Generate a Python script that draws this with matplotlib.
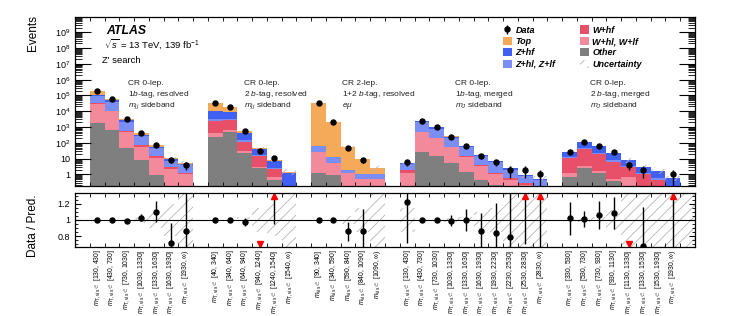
import numpy as np
import matplotlib
matplotlib.use('Agg')
import matplotlib.pyplot as plt
from matplotlib.patches import Patch
from matplotlib.ticker import FixedLocator, LogLocator, FuncFormatter, NullFormatter, MultipleLocator

plt.rcParams['font.family'] = 'Liberation Sans'
plt.rcParams['mathtext.fontset'] = 'custom'
plt.rcParams['mathtext.rm'] = 'Liberation Sans'
plt.rcParams['mathtext.it'] = 'Liberation Sans:italic'
plt.rcParams['mathtext.bf'] = 'Liberation Sans:bold'
plt.rcParams['hatch.linewidth'] = 0.6

# regions: lower bin edges of the discriminant, last bin open
r1_edges = [130, 430, 730, 1030, 1330, 1630, 1930]
r2_edges = [40, 340, 640, 940, 1240, 1540]
r3_edges = [90, 340, 590, 840, 1090]
r4_edges = [130, 430, 730, 1030, 1330, 1630, 1930, 2230, 2530, 2830]
r5_edges = [330, 530, 730, 930, 1130, 1330, 1530, 1930]
region_edges = [r1_edges, r2_edges, r3_edges, r4_edges, r5_edges]
region_var = [r'm_{\mathrm{T,vis}}', r'm_{\mathrm{T,vis}}', r'm_{\mathrm{vis}}',
              r'm_{\mathrm{T,vis}}', r'm_{\mathrm{T,vis}}']
region_text = [
    ['CR 0-lep.', '1$b$-tag, resolved', '$m_{jj}$ sideband'],
    ['CR 0-lep.', '2 $b$-tag, resolved', '$m_{jj}$ sideband'],
    ['CR 2-lep.', '1+2 $b$-tag, resolved', r'$e\mu$'],
    ['CR 0-lep.', '1$b$-tag, merged', '$m_{J}$ sideband'],
    ['CR 0-lep.', '2 $b$-tag, merged', '$m_{J}$ sideband'],
]

# stacked backgrounds, bins of the 5 regions in a row (7, 6, 5, 10, 8)
other = [1700, 630, 45, 8, 0.9, 0.15, 0.1,
         240, 460, 23, 2.4, 0.44, 0.02,
         1.15, 0.9, 0.05, 0.02, 0.01,
         0.05, 27, 14, 5.5, 1.5, 0.44, 0.2, 0.05, 0.02, 0.01,
         0.65, 2.4, 1.3, 0.35, 0.05, 0.02, 0.01, 0.005]
w_lf = [28000, 9000, 465, 50, 10, 1.95, 0.9,
        150, 170, 7, 0.6, 0.2, 0.02,
        26, 4.5, 1.2, 0.5, 0.5,
        1.2, 430, 180, 45, 11, 2.8, 0.9, 0.4, 0.2, 0.08,
        0.6, 1.0, 0.3, 0.13, 0.65, 0.1, 0.05, 0.02]
w_hf = [1500, 400, 40, 13, 3, 0.7, 0.26,
        2110, 2070, 85, 11, 1.56, 0.05,
        0.3, 0.2, 0.05, 0.02, 0.02,
        0.6, 43, 16, 5.5, 1.5, 0.66, 0.16, 0.11, 0.06, 0.02,
        9.7, 34.6, 17, 5.8, 2.3, 0.93, 0.37, 0.1]
z_lf = [60000, 31000, 1650, 180, 32, 4.6, 2.4,
        800, 700, 35, 3, 0.5, 0.07,
        35, 6.6, 0.64, 0.5, 0.5,
        2.5, 1550, 580, 145, 38, 10.3, 4.7, 1.45, 0.5, 0.32,
        2, 7, 4.4, 1.7, 0.5, 0.2, 0.12, 0.05]
z_hf = [19000, 9000, 500, 59, 10, 1.5, 0.84,
        6700, 5700, 240, 23, 4.3, 1.1,
        1.0, 0.3, 0.05, 0.05, 0.05,
        0.6, 400, 150, 39, 10, 2.8, 1.24, 0.4, 0.12, 0.07,
        14, 70, 39, 15, 4.5, 1.55, 1.05, 0.38]
top = [70000, 12000, 600, 120, 12, 1.8, 0.5,
       21000, 8400, 160, 8, 1, 0.2,
       33900, 2088, 54, 7.9, 1.4,
       0.05, 100, 40, 10, 3, 0.8, 0.3, 0.1, 0.04, 0.02,
       0.3, 1, 0.5, 0.3, 0.15, 0.1, 0.05, 0.03]

nan = np.nan
data = [180000, 62000, 3270, 443, 75, 8, 4,
        31000, 17500, 540, 30, 11, nan,
        34000, 2100, 48, 8, nan,
        6, 2550, 980, 248, 65, 15, 6, 2, 2, 1,
        27, 117, 66, 25, 4, 2, nan, 1]

ratio = [1.0, 1.0, 0.99, 1.03, 1.10, 0.71, 0.86,
         1.0, 1.0, 0.98, 0.62, 1.4, nan,
         1.0, 1.0, 0.86, 0.86, nan,
         1.22, 1.0, 1.0, 0.99, 1.0, 0.87, 0.84, 0.79, 2.3, 2.0,
         1.02, 1.01, 1.06, 1.09, 0.5, 0.68, nan, 1.8]
ratio_err = [0.005, 0.006, 0.02, 0.04, 0.13, 0.25, 0.5,
             0.008, 0.01, 0.05, 0.12, 0.45, nan,
             0.005, 0.02, 0.12, 0.28, nan,
             0.51, 0.02, 0.03, 0.07, 0.13, 0.22, 0.37, 0.6, 1.6, 2.0,
             0.2, 0.1, 0.17, 0.2, 0.15, 0.48, nan, 1.6]
# relative background uncertainty
unc = [0.005, 0.005, 0.01, 0.04, 0.1, 0.2, 0.35,
       0.005, 0.005, 0.04, 0.15, 0.2, 0.4,
       0.005, 0.01, 0.05, 0.15, 0.4,
       0.15, 0.01, 0.01, 0.03, 0.04, 0.1, 0.15, 0.4, 0.4, 0.4,
       0.01, 0.02, 0.04, 0.12, 0.35, 0.4, 0.4, 0.4]

c_other = '#7f7f7f'
c_wlf = '#f28a9c'
c_whf = '#e8506a'
c_zlf = '#7b8ef5'
c_zhf = '#3f60f0'
c_top = '#f5aa5a'
c_hatch = '#b5b5b5'

# slot layout: one empty slot before, between and after the regions
nbins = [len(e) for e in region_edges]
starts = []
pos = 1
for n in nbins:
    starts.append(pos)
    pos += n + 1
n_slots = pos
x = np.concatenate([s + np.arange(n) for s, n in zip(starts, nbins)]).astype(float)

labels = []
for edges, var in zip(region_edges, region_var):
    for i, lo in enumerate(edges):
        if i + 1 < len(edges):
            rng = '[%d, %d]' % (lo, edges[i + 1])
        else:
            rng = '[%d, $\\infty$)' % lo
        labels.append(r'$%s \in$ %s' % (var, rng))

fig = plt.figure(figsize=(7.52, 3.16), dpi=100)
ax = fig.add_axes([75 / 752, 1 - 185.7 / 316, 620 / 752, 169 / 316])
axr = fig.add_axes([75 / 752, 1 - 246.7 / 316, 620 / 752, 53.4 / 316])

stack = [(other, c_other), (w_lf, c_wlf), (w_hf, c_whf),
         (z_lf, c_zlf), (z_hf, c_zhf), (top, c_top)]
bottom = np.full(len(x), 1e-3)
for vals, col in stack:
    vals = np.array(vals)
    ax.bar(x, vals, width=1, bottom=bottom, align='edge', color=col, linewidth=0)
    bottom = bottom + vals
total = bottom
u = np.array(unc)
ax.bar(x, 2 * u * total, bottom=total * (1 - u), width=1, align='edge', fill=False,
       hatch='///', edgecolor=c_hatch, linewidth=0)

data = np.array(data)
derr = np.sqrt(data)
dlo = np.minimum(derr, data - 1e-3)
eb = ax.errorbar(x + 0.5, data, yerr=[dlo, derr], fmt='o', color='k', ms=3.6,
                 elinewidth=1.0, capsize=0, label='Data')

ax.set_yscale('log')
ax.set_ylim(0.19, 9.8e9)
ax.yaxis.set_major_locator(FixedLocator(10.0 ** np.arange(0, 10)))
ax.yaxis.set_minor_locator(LogLocator(base=10, subs=np.arange(2, 10), numticks=100))
def logfmt(v, p):
    n = int(round(np.log10(v)))
    if n == 0:
        return '1'
    if n == 1:
        return '10'
    return r'$10^{%d}$' % n
ax.yaxis.set_major_formatter(FuncFormatter(logfmt))
ax.yaxis.set_minor_formatter(NullFormatter())
ax.tick_params(axis='y', which='major', direction='in', left=True, right=True,
               length=11.5, width=0.8, labelsize=6.5)
ax.tick_params(axis='y', which='minor', direction='in', left=True, right=True,
               length=5, width=0.6)

# ratio panel
ratio = np.array(ratio)
ratio_err = np.array(ratio_err)
axr.bar(x, 2 * u, bottom=1 - u, width=1, align='edge', fill=False,
        hatch='///', edgecolor=c_hatch, linewidth=0)
axr.bar(x[-1] + 1, 2 * u[-1], bottom=1 - u[-1], width=1, align='edge', fill=False,
        hatch='///', edgecolor=c_hatch, linewidth=0)
axr.axhline(1, color='k', lw=0.8)
axr.errorbar(x + 0.5, ratio, yerr=ratio_err, fmt='o', color='k', ms=3.6,
             elinewidth=1.0, capsize=0)
r_lo, r_hi = 0.67, 1.33
up = ratio > r_hi
dn = ratio < r_lo
axr.plot(x[up] + 0.5, np.full(up.sum(), 1.297), '^', color='red', ms=4.5, clip_on=False)
axr.plot(x[dn] + 0.5, np.full(dn.sum(), 0.703), 'v', color='red', ms=4.5, clip_on=False)
axr.set_ylim(r_lo, r_hi)
axr.yaxis.set_major_locator(FixedLocator([0.8, 1.0, 1.2]))
axr.yaxis.set_major_formatter(FuncFormatter(lambda v, p: '%g' % v))
axr.yaxis.set_minor_locator(MultipleLocator(0.05))
axr.tick_params(axis='y', which='major', direction='in', left=True, right=True,
                length=4.5, width=0.8, labelsize=6.5)
axr.tick_params(axis='y', which='minor', direction='in', left=True, right=True,
                length=2.2, width=0.6)

for a in (ax, axr):
    a.set_xlim(0, n_slots)
    a.set_xticks(np.arange(0, n_slots + 1))
    a.tick_params(axis='x', which='major', direction='in', top=True, bottom=True,
                  length=3, width=0.6, labelbottom=False)
    for sp in a.spines.values():
        sp.set_linewidth(0.9)
axr.set_xticks(x + 0.5, labels=labels, minor=True)
axr.tick_params(axis='x', which='minor', length=0, labelsize=4.9, labelrotation=90, pad=2)

# texts
fig.text(33 / 752, 1 - 15 / 316, 'Events', rotation=90, ha='center', va='top', fontsize=8.5)
fig.text(33 / 752, 1 - 226 / 316, 'Data / Pred.', rotation=90, ha='center', va='center',
         fontsize=8.5)
ax.text(0.05, 0.918, 'ATLAS', transform=ax.transAxes, fontsize=8.8, weight='bold',
        style='italic', va='center')
ax.text(0.046, 0.84, r'$\sqrt{s}$ = 13 TeV, 139 fb$^{-1}$', transform=ax.transAxes,
        fontsize=6.8, va='center')
ax.text(0.044, 0.738, "Z' search", transform=ax.transAxes, fontsize=6.8, va='center')

label_x = [3.59, 11.45, 18.09, 25.74, 34.89]
line_y = [0.605, 0.540, 0.474]
for lx, lines in zip(label_x, region_text):
    for ly, t in zip(line_y, lines):
        ax.text(lx, ly, t, transform=ax.get_xaxis_transform(), fontsize=6.0, va='center',
                color='#222222')

handles = [eb,
           Patch(facecolor=c_top, label='Top'),
           Patch(facecolor=c_zhf, label='Z+hf'),
           Patch(facecolor=c_zlf, label='Z+hl, Z+lf'),
           Patch(facecolor=c_whf, label='W+hf'),
           Patch(facecolor=c_wlf, label='W+hl, W+lf'),
           Patch(facecolor=c_other, label='Other'),
           Patch(facecolor='none', edgecolor=c_hatch, hatch='///', linewidth=0,
                 label='Uncertainty')]
ax.legend(handles=handles, ncol=2, loc='upper left', bbox_to_anchor=(0.69, 0.948),
          frameon=False, prop=dict(size=6.5, weight='bold', style='italic'),
          handlelength=1.0, handleheight=1.0, handletextpad=0.4, columnspacing=2.7,
          labelspacing=0.25, borderpad=0, borderaxespad=0)

fig.savefig('out.png', dpi=100)
